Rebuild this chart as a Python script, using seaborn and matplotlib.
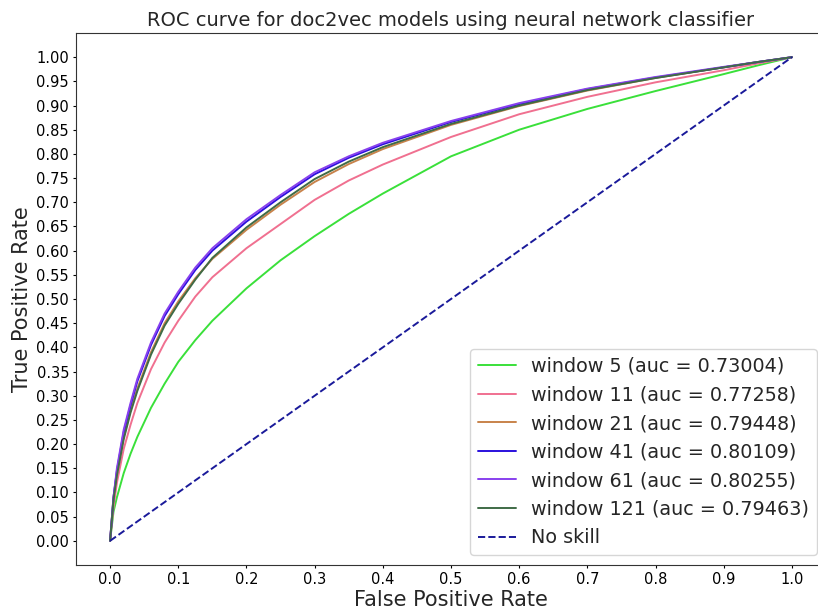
import matplotlib
matplotlib.use("Agg")
import numpy as np
import pandas as pd
import seaborn as sns
import matplotlib.pyplot as plt
from matplotlib.ticker import FormatStrFormatter

# ---- data ----
fpr = [0, 0.005, 0.01, 0.02, 0.03, 0.04, 0.06, 0.08, 0.1, 0.125, 0.15, 0.2,
       0.25, 0.3, 0.35, 0.4, 0.5, 0.6, 0.7, 0.8, 0.9, 0.95, 1.0]

tpr_w5 = [0, 0.06, 0.09, 0.14, 0.18, 0.215, 0.275, 0.325, 0.37, 0.415, 0.455, 0.522,
          0.58, 0.63, 0.676, 0.718, 0.795, 0.85, 0.893, 0.93, 0.965, 0.983, 1.0]
tpr_w11 = [0, 0.07, 0.12, 0.19, 0.24, 0.285, 0.355, 0.41, 0.455, 0.505, 0.545, 0.605,
           0.655, 0.705, 0.745, 0.778, 0.835, 0.882, 0.918, 0.948, 0.973, 0.987, 1.0]
tpr_w21 = [0, 0.09, 0.14, 0.215, 0.27, 0.315, 0.39, 0.45, 0.495, 0.543, 0.583, 0.643,
           0.695, 0.742, 0.779, 0.81, 0.86, 0.899, 0.931, 0.957, 0.979, 0.99, 1.0]
tpr_w41 = [0, 0.09, 0.145, 0.225, 0.28, 0.33, 0.405, 0.465, 0.51, 0.56, 0.6, 0.66,
           0.711, 0.758, 0.792, 0.82, 0.866, 0.903, 0.934, 0.958, 0.979, 0.99, 1.0]
tpr_w61 = [0, 0.09, 0.15, 0.23, 0.285, 0.335, 0.41, 0.47, 0.515, 0.565, 0.605, 0.665,
           0.715, 0.762, 0.795, 0.823, 0.868, 0.905, 0.935, 0.959, 0.98, 0.99, 1.0]
tpr_w121 = [0, 0.085, 0.135, 0.21, 0.265, 0.31, 0.385, 0.445, 0.49, 0.54, 0.585, 0.648,
            0.7, 0.748, 0.784, 0.814, 0.862, 0.9, 0.932, 0.957, 0.979, 0.99, 1.0]

labels = ["window 5 (auc = 0.73004)", "window 11 (auc = 0.77258)",
          "window 21 (auc = 0.79448)", "window 41 (auc = 0.80109)",
          "window 61 (auc = 0.80255)", "window 121 (auc = 0.79463)"]
series = [tpr_w5, tpr_w11, tpr_w21, tpr_w41, tpr_w61, tpr_w121]
colors = ["#3ae03a", "#f07090", "#c8834b", "#2a10dd", "#8840ee", "#3f6b46"]

noskill_x = [0, 1]
noskill_y = [0, 1]

# ---- build long table ----
frames = []
for lab, tpr in zip(labels, series):
    frames.append(pd.DataFrame({"fpr": fpr, "tpr": tpr, "model": lab}))
df = pd.concat(frames, ignore_index=True)

sns.set_style("ticks")
plt.rcParams['font.family'] = ['DejaVu Sans']

fig = plt.figure(figsize=(8.18, 6.10), dpi=100)
ax = fig.add_axes([76 / 818, 45 / 610, 750 / 818, 532 / 610])

sns.lineplot(data=df, x="fpr", y="tpr", hue="model", hue_order=labels,
             palette=dict(zip(labels, colors)), estimator=None, sort=False,
             linewidth=1.4, ax=ax)
sns.lineplot(x=noskill_x, y=noskill_y, color="#1a1a9a", linestyle="--",
             linewidth=1.4, label="No skill", ax=ax)

ax.set_xlim(-0.05, 1.05)
ax.set_ylim(-0.05, 1.05)
ax.set_xticks(np.arange(0, 1.01, 0.1))
ax.set_yticks(np.arange(0, 1.001, 0.05))
ax.xaxis.set_major_formatter(FormatStrFormatter("%.1f"))
ax.yaxis.set_major_formatter(FormatStrFormatter("%.2f"))
ax.tick_params(labelsize=10.5, direction="out", length=2.5, pad=2.5, colors="black")
for s in ax.spines.values():
    s.set_color("#333333")

ax.set_xlabel("False Positive Rate", fontsize=15, labelpad=2)
ax.set_ylabel("True Positive Rate", fontsize=15, labelpad=3)
ax.set_title("ROC curve for doc2vec models using neural network classifier",
             fontsize=14, pad=5)

ax.legend(loc="lower right", bbox_to_anchor=(817 / 818, 55 / 610),
          bbox_transform=fig.transFigure, borderaxespad=0, fontsize=13.8,
          frameon=True, handlelength=2.0)

fig.savefig("out.png", dpi=100)
